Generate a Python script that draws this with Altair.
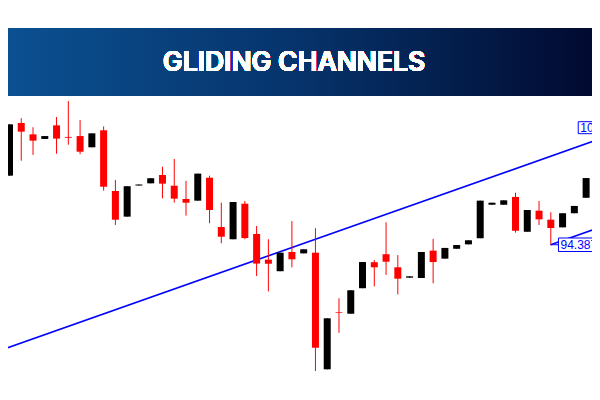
import altair as alt
import pandas as pd

# ---- candle data ----
idx = list(range(0, 51))
opens = [98.22, 98.45, 101.55, 100.88, 100.61, 101.41, 100.73, 100.78, 100.12, 101.12,
         97.55, 96.04, 97.87, 98.00, 98.49, 97.86, 97.08, 96.98, 98.33, 95.43,
         94.71, 96.80, 95.02, 93.51, 92.83, 93.96, 93.88, 93.92, 87.06, 90.41,
         90.33, 91.83, 93.36, 93.83, 93.06, 92.45, 92.43, 94.04, 93.57, 94.15,
         94.41, 94.77, 96.74, 96.74, 97.20, 95.15, 96.39, 95.86, 95.41, 96.24,
         97.15]
closes = [98.28, 101.47, 101.04, 100.51, 100.78, 100.63, 100.68, 99.86, 100.94, 97.80,
          95.86, 97.83, 97.93, 98.30, 97.98, 97.10, 96.86, 98.57, 96.43, 94.86,
          96.90, 94.78, 93.28, 93.27, 93.92, 93.53, 94.12, 88.33, 90.06, 90.37,
          91.71, 93.37, 93.06, 93.39, 92.39, 92.53, 93.96, 93.37, 94.20, 94.37,
          94.65, 96.98, 96.86, 97.00, 95.21, 96.43, 95.88, 95.37, 96.24, 96.67,
          98.31]
highs = [98.28, 101.47, 101.83, 101.30, 100.78, 101.90, 102.84, 101.73, 100.94, 101.35,
         98.20, 97.83, 97.93, 98.30, 98.98, 99.43, 98.14, 98.57, 98.45, 96.86,
         96.90, 96.96, 95.49, 94.71, 93.92, 95.78, 94.12, 95.36, 90.06, 91.24,
         91.71, 93.37, 93.49, 95.71, 93.78, 92.53, 93.96, 94.73, 94.20, 94.37,
         94.65, 96.98, 96.86, 97.00, 97.45, 96.43, 96.96, 96.30, 96.24, 96.67,
         98.31]
lows = [98.22, 98.45, 99.33, 99.67, 100.61, 99.74, 100.27, 99.71, 100.12, 97.57,
        95.55, 96.04, 97.87, 98.00, 97.12, 96.86, 96.10, 96.98, 95.65, 94.47,
        94.71, 94.71, 92.55, 91.64, 92.83, 93.06, 93.88, 86.96, 87.06, 89.21,
        90.33, 91.83, 91.94, 92.61, 91.47, 92.45, 92.43, 92.12, 93.57, 94.15,
        94.41, 94.77, 96.74, 96.74, 95.10, 95.15, 95.55, 94.387, 95.41, 96.24,
        97.15]

# ---- channel lines ----
upper_x = [0, 51]
upper_y = [88.12, 100.57]
lower_x = [46.98, 51]
lower_y = [94.387, 95.37]

# ---- price labels ----
label_text = ["94.387", "100.439"]
label_x = [47.82, 49.50]
label_y = [94.387, 101.27]
box_x = [47.65, 49.33]
box_x2 = [53.0, 53.0]
box_top = [94.784, 101.625]
box_bottom = [93.99, 100.92]
connector_x = [46.98, 49.33]

title_text = "GLIDING CHANNELS"

df = pd.DataFrame({"i": idx, "open": opens, "close": closes, "high": highs, "low": lows})
df["dir"] = ["up" if c >= o else "down" for o, c in zip(opens, closes)]

xs = alt.Scale(domain=[0.874, 50.5], nice=False, zero=False, padding=0)
ys = alt.Scale(domain=[85.725, 108.313], nice=False, zero=False, padding=0)
cs = alt.Scale(domain=["up", "down"], range=["#000000", "#ff0000"])


def X(f):
    return alt.X(f, type="quantitative", scale=xs, axis=None)


def Y(f):
    return alt.Y(f, type="quantitative", scale=ys, axis=None)


base = alt.Chart(df)

wicks = base.mark_rule(strokeWidth=1, clip=True).encode(
    x=X("i"), y=Y("low"), y2="high",
    color=alt.Color("dir:N", scale=cs, legend=None),
)
bodies = base.mark_bar(size=7, clip=True).encode(
    x=X("i"), y=Y("open"), y2="close",
    color=alt.Color("dir:N", scale=cs, legend=None),
)

up_df = pd.DataFrame({"x": upper_x, "y": upper_y})
lo_df = pd.DataFrame({"x": lower_x, "y": lower_y})
upper_line = alt.Chart(up_df).mark_line(color="#0000ff", strokeWidth=1.6, clip=True).encode(
    x=X("x"), y=Y("y"))
lower_line = alt.Chart(lo_df).mark_line(color="#0000ff", strokeWidth=1.6, clip=True).encode(
    x=X("x"), y=Y("y"))

lab_df = pd.DataFrame({"t": label_text, "x": label_x, "y": label_y, "bx": box_x,
                       "bx2": box_x2, "top": box_top, "bot": box_bottom,
                       "cx": connector_x})
connector = alt.Chart(lab_df.iloc[[0]]).mark_rule(color="#0000ff", strokeWidth=1, clip=True).encode(
    x=X("cx"), x2="bx", y=Y("y"))
boxes = alt.Chart(lab_df).mark_rect(fill="white", stroke="#0000ff", strokeWidth=1, clip=True).encode(
    x=X("bx"), x2="bx2", y=Y("top"), y2="bot")
texts = alt.Chart(lab_df).mark_text(align="left", baseline="middle", color="#0000ff",
                                     font="Liberation Sans", fontSize=12, clip=True).encode(
    x=X("x"), y=Y("y"), text="t:N")

banner = alt.Chart(df).mark_rect(
    fill=alt.Gradient(gradient="linear",
                      stops=[alt.GradientStop(color="#0b5091", offset=0),
                             alt.GradientStop(color="#06336b", offset=0.5),
                             alt.GradientStop(color="#010a30", offset=1)],
                      x1=0, x2=1, y1=0, y2=0)
).encode(x=alt.value(0), x2=alt.value(584), y=alt.value(20), y2=alt.value(88))

title = alt.Chart(df).mark_text(
    text=title_text, color="white", font="Inter", fontWeight=600, fontSize=26.5,
    align="center", baseline="middle"
).encode(x=alt.value(286), y=alt.value(54.5))

chart = alt.layer(banner, title, upper_line, lower_line, wicks, bodies, connector, boxes, texts).properties(
    width=584, height=384, padding=0, autosize=alt.AutoSizeParams(type="none"),
    background="white"
).configure_view(stroke=None)

chart.save("out.html", embed_options={"renderer": "svg", "actions": False})
